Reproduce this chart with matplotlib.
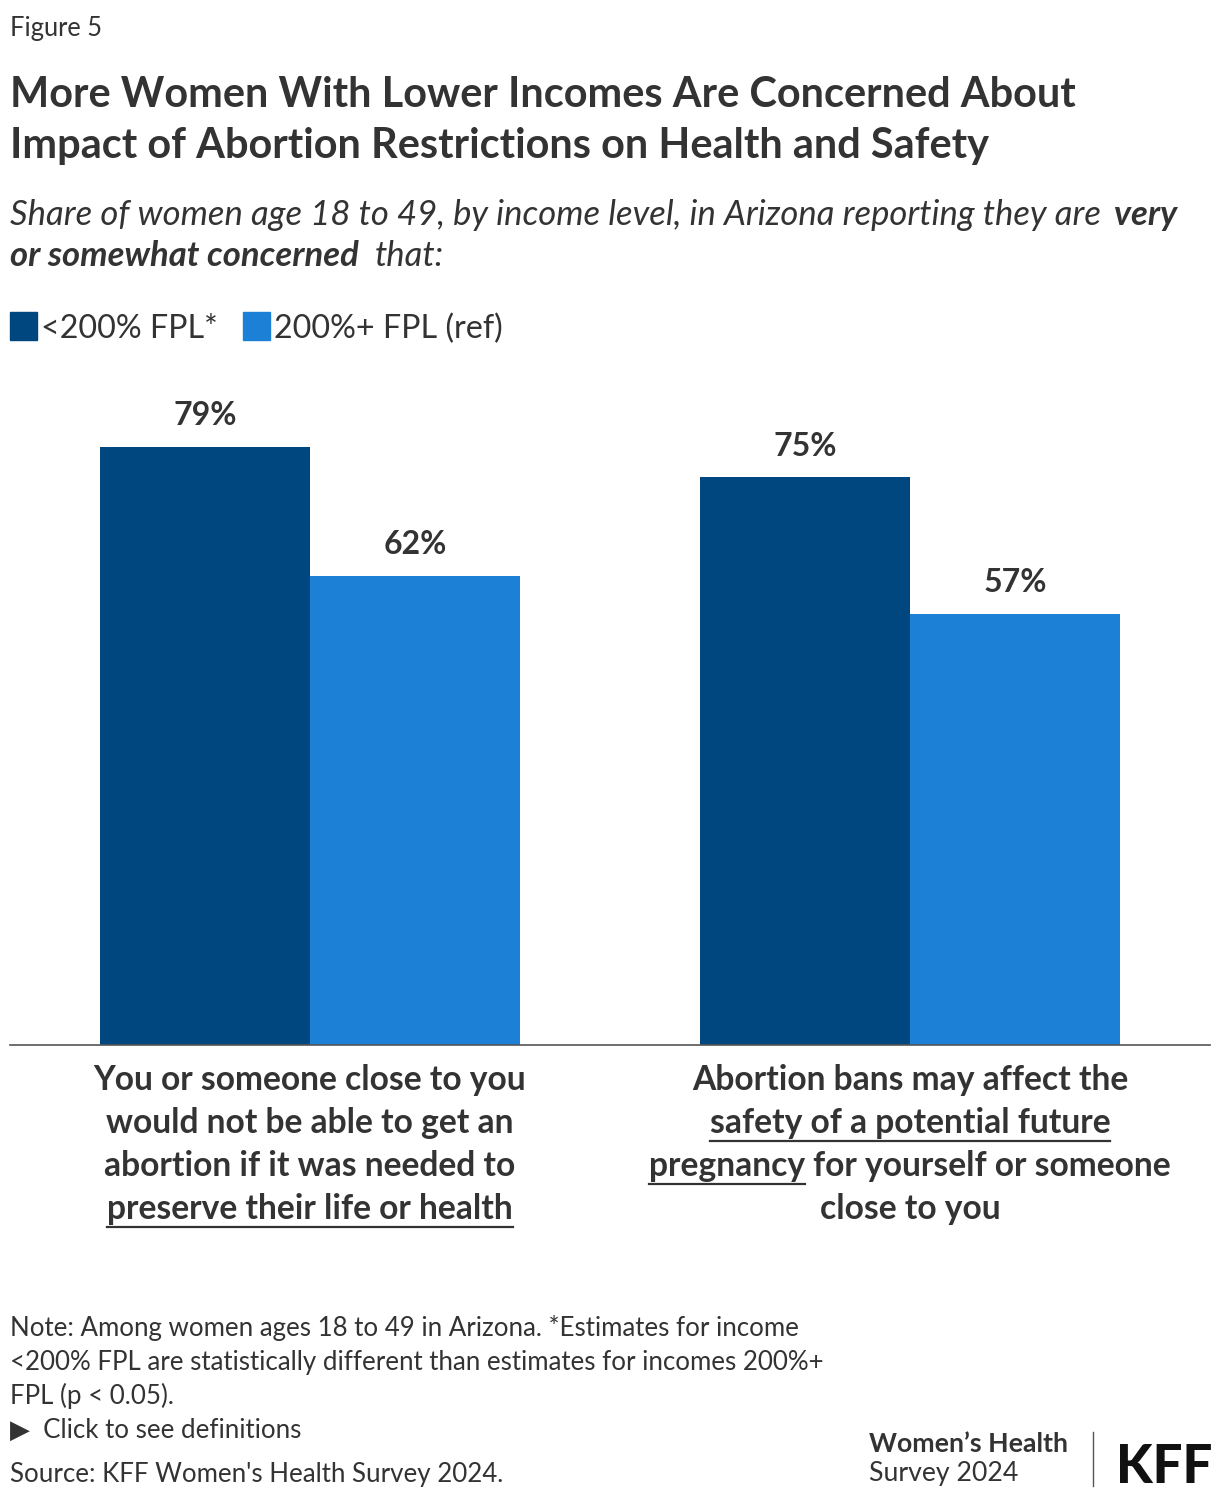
import matplotlib
matplotlib.use('Agg')
import matplotlib.pyplot as plt
import numpy as np
from matplotlib.font_manager import FontProperties
from matplotlib.textpath import TextToPath

# data
categories = ['life_health', 'future_pregnancy']
series_names = ['<200% FPL*', '200%+ FPL (ref)']
low_income = [79, 75]
high_income = [62, 57]
colors = ['#00467F', '#1C80D6']

W, H = 1220, 1500
FAMILY = 'Lato'
TXT = '#333333'

plt.rcParams['font.family'] = [FAMILY, 'DejaVu Sans']

fig = plt.figure(figsize=(W / 100, H / 100), dpi=100)
ttp = TextToPath()


def text_width(s, prop):
    if not s:
        return 0.0
    w, h, d = ttp.get_text_width_height_descent(s, prop, ismath=False)
    return w * 100 / 72


def space_width(prop):
    return text_width('x x', prop) - text_width('xx', prop)


def place_runs(x, y, runs, size, ha='left', underline_gap=8):
    """Draw a line made of runs (text, weight, style, underline) at pixel x, y (baseline)."""
    pieces = []
    total = 0.0
    for s, weight, style, ul in runs:
        prop = FontProperties(family=FAMILY, size=size, weight=weight, style=style)
        sp = space_width(prop)
        lead = (len(s) - len(s.lstrip(' '))) * sp
        trail = (len(s) - len(s.rstrip(' '))) * sp
        core = s.strip(' ')
        w = text_width(core, prop)
        pieces.append((core, prop, ul, lead, w, trail))
        total += lead + w + trail
    cx = x - total / 2 if ha == 'center' else x
    for core, prop, ul, lead, w, trail in pieces:
        cx += lead
        fig.text(cx / W, 1 - y / H, core, fontproperties=prop, color=TXT,
                 ha='left', va='baseline')
        if ul:
            fig.add_artist(plt.Line2D([cx / W, (cx + w) / W],
                                      [1 - (y + underline_gap) / H] * 2,
                                      color=TXT, lw=1.6))
        cx += w + trail


# axes geometry from the reference (pixels)
ax_left, ax_right, ax_base, ax_top = 10, 1210, 1045, 380
px_per_pct = 7.57
ax = fig.add_axes([ax_left / W, 1 - ax_base / H, (ax_right - ax_left) / W,
                   (ax_base - ax_top) / H])
x = np.arange(len(categories))
bw = 0.35
ax.bar(x - bw / 2, low_income, bw, color=colors[0], label=series_names[0])
ax.bar(x + bw / 2, high_income, bw, color=colors[1], label=series_names[1])
for offs, vals in [(-bw / 2, low_income), (bw / 2, high_income)]:
    for xi, v in zip(x + offs, vals):
        ax.annotate(f'{v}%', (xi, v), xytext=(0, 12), textcoords='offset points',
                    ha='center', va='bottom', fontsize=23, color=TXT, fontweight='bold')
ax.set_xlim(-0.5, 1.5)
ax.set_ylim(0, (ax_base - ax_top) / px_per_pct)
for side in ['top', 'right', 'left']:
    ax.spines[side].set_visible(False)
ax.spines['bottom'].set_color('#555555')
ax.spines['bottom'].set_linewidth(1.2)
ax.set_xticks([])
ax.set_yticks([])

# header
fig.text(10 / W, 1 - 36 / H, 'Figure 5', fontsize=18.4, color=TXT, va='baseline')
fig.text(10 / W, 1 - 107 / H, 'More Women With Lower Incomes Are Concerned About',
         fontsize=29.9, fontweight='bold', color=TXT, va='baseline')
fig.text(10 / W, 1 - 158 / H, 'Impact of Abortion Restrictions on Health and Safety',
         fontsize=29.9, fontweight='bold', color=TXT, va='baseline')
place_runs(10, 225, [('Share of women age 18 to 49, by income level, in Arizona reporting they are  ', 'normal', 'italic', False),
                     ('very', 'bold', 'italic', False)], 24.9)
place_runs(10, 266, [('or somewhat concerned', 'bold', 'italic', False),
                     ('  that:', 'normal', 'italic', False)], 24.9)

# legend
lx = 10
for name, col in zip(series_names, colors):
    fig.add_artist(plt.Rectangle((lx / W, 1 - 340 / H), 27 / W, 28 / H, color=col,
                                 transform=fig.transFigure))
    prop = FontProperties(family=FAMILY, size=23.2)
    fig.text((lx + 31) / W, 1 - 338 / H, name, fontproperties=prop, color=TXT, va='baseline')
    lx += 31 + text_width(name, prop) + 25

# category labels
label_lines = [
    [[('You or someone close to you', 'bold', 'normal', False)],
     [('would not be able to get an', 'bold', 'normal', False)],
     [('abortion if it was needed to', 'bold', 'normal', False)],
     [('preserve their life or health', 'bold', 'normal', True)]],
    [[('Abortion bans may affect the', 'bold', 'normal', False)],
     [('safety of a potential future', 'bold', 'normal', True)],
     [('pregnancy', 'bold', 'normal', True), (' for yourself or someone', 'bold', 'normal', False)],
     [('close to you', 'bold', 'normal', False)]],
]
for ci, lines in enumerate(label_lines):
    cx_px = ax_left + (ci + 0.5) * (ax_right - ax_left) / 2
    for li, runs in enumerate(lines):
        place_runs(cx_px, 1090 + li * 43, runs, 24.2, ha='center')

# notes
notes = ['Note: Among women ages 18 to 49 in Arizona. *Estimates for income',
         '<200% FPL are statistically different than estimates for incomes 200%+',
         'FPL (p < 0.05).',
         '\u25B6  Click to see definitions']
for i, s in enumerate(notes):
    fig.text(10 / W, 1 - (1336 + i * 34) / H, s, fontsize=18.6, color=TXT, va='baseline')
fig.text(10 / W, 1 - 1482 / H, "Source: KFF Women's Health Survey 2024.", fontsize=18.6,
         color=TXT, va='baseline')

# logo
fig.text(869 / W, 1 - 1452 / H, 'Women\u2019s Health', fontsize=19.2, fontweight='bold',
         color=TXT, va='baseline')
fig.text(869 / W, 1 - 1481 / H, 'Survey 2024', fontsize=19.2, color=TXT, va='baseline')
fig.add_artist(plt.Line2D([1093 / W] * 2, [1 - 1432 / H, 1 - 1486 / H], color='#555555', lw=1))
fig.text(1116 / W, 1 - 1483 / H, 'KFF', fontsize=38, fontweight='black', color='#111111',
         va='baseline')

fig.savefig('out.png', dpi=100)
